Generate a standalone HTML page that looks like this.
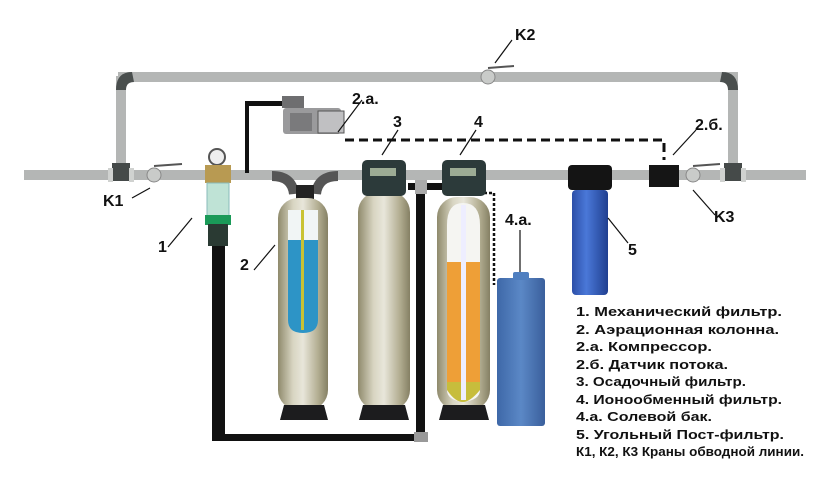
<!DOCTYPE html>
<html><head><meta charset="utf-8"><style>
html,body{margin:0;padding:0;background:#fff;}
svg{display:block}
text{font-family:"Liberation Sans","DejaVu Sans",sans-serif;font-weight:bold;fill:#111}
</style></head><body>
<svg width="830" height="483" viewBox="0 0 830 483" xmlns="http://www.w3.org/2000/svg">
<defs>
<linearGradient id="tank" x1="0" x2="1" y1="0" y2="0">
<stop offset="0" stop-color="#8f8a6c"/><stop offset="0.3" stop-color="#d8d5c2"/><stop offset="0.5" stop-color="#e8e6da"/><stop offset="0.8" stop-color="#b3ae92"/><stop offset="1" stop-color="#858064"/>
</linearGradient>
<linearGradient id="blue" x1="0" x2="1"><stop offset="0" stop-color="#2c4fa8"/><stop offset="0.4" stop-color="#4a78d8"/><stop offset="1" stop-color="#203f90"/></linearGradient>
<linearGradient id="salt" x1="0" x2="1"><stop offset="0" stop-color="#3e68a8"/><stop offset="0.5" stop-color="#5b88c6"/><stop offset="1" stop-color="#3a5f9c"/></linearGradient>
</defs>
<rect x="24" y="170" width="782" height="10" fill="#b4b6b5"/>
<rect x="118" y="72" width="620" height="10" fill="#b4b6b5"/>
<rect x="116" y="76" width="10" height="100" fill="#b4b6b5"/>
<rect x="728" y="76" width="10" height="100" fill="#b4b6b5"/>
<path d="M116 90 Q116 72 132 72 L134 82 Q126 82 126 90Z" fill="#4a4f4e"/>
<path d="M738 90 Q738 72 722 72 L720 82 Q728 82 728 90Z" fill="#4a4f4e"/>
<rect x="112" y="163" width="18" height="18" fill="#454a49"/>
<rect x="724" y="163" width="18" height="18" fill="#454a49"/>
<rect x="108" y="168" width="5" height="14" fill="#d0d2d0"/><rect x="129" y="168" width="5" height="14" fill="#d0d2d0"/>
<rect x="720" y="168" width="5" height="14" fill="#d0d2d0"/><rect x="741" y="168" width="5" height="14" fill="#d0d2d0"/>
<g fill="#c9cbc9" stroke="#888" stroke-width="1">
<circle cx="154" cy="175" r="7"/><circle cx="488" cy="77" r="7"/><circle cx="693" cy="175" r="7"/>
</g>
<path d="M154 166 L182 164 M488 68 L514 66 M693 166 L720 164" stroke="#555" stroke-width="2"/>
<rect x="212" y="245" width="13" height="195" fill="#111"/>
<rect x="212" y="434" width="212" height="7" fill="#111"/>
<rect x="416" y="188" width="9" height="250" fill="#111"/>
<rect x="414" y="432" width="14" height="10" fill="#999"/>
<rect x="245" y="103" width="4" height="70" fill="#111"/>
<rect x="245" y="101" width="40" height="5" fill="#111"/>
<rect x="408" y="183" width="40" height="7" fill="#111"/>
<rect x="415" y="180" width="12" height="14" fill="#aaa"/>
<path d="M345 140 L664 140 L664 160" stroke="#111" stroke-width="3" fill="none" stroke-dasharray="9 5"/>
<path d="M484 193 L494 193 L494 285" stroke="#111" stroke-width="2.5" fill="none" stroke-dasharray="3 2"/>
<rect x="282" y="96" width="22" height="12" fill="#6e6e70"/>
<rect x="283" y="108" width="58" height="26" rx="3" fill="#9a9a9c"/>
<rect x="318" y="111" width="26" height="22" fill="#c0c0c2" stroke="#555"/>
<rect x="290" y="113" width="22" height="18" fill="#7a7a7c"/>
<circle cx="217" cy="157" r="8" fill="#eee" stroke="#555" stroke-width="2"/>
<rect x="205" y="165" width="26" height="18" fill="#b89a52"/>
<rect x="207" y="183" width="22" height="34" fill="#bfe3d6" stroke="#8bb" />
<rect x="205" y="215" width="26" height="10" fill="#1a9a58"/>
<rect x="208" y="224" width="20" height="22" fill="#2a3a33"/>
<path d="M272 176 Q292 176 294 194" stroke="#555" stroke-width="10" fill="none"/>
<path d="M338 176 Q318 176 316 194" stroke="#555" stroke-width="10" fill="none"/>
<rect x="296" y="185" width="18" height="20" fill="#222"/>
<rect x="278" y="198" width="50" height="212" rx="20" fill="url(#tank)"/>
<rect x="358" y="192" width="52" height="218" rx="20" fill="url(#tank)"/>
<rect x="437" y="197" width="53" height="213" rx="20" fill="url(#tank)"/>
<path d="M280 420 L284 405 L324 405 L328 420Z" fill="#1c1c1e"/>
<path d="M359 420 L363 405 L405 405 L409 420Z" fill="#1c1c1e"/>
<path d="M439 420 L443 405 L485 405 L489 420Z" fill="#1c1c1e"/>
<path d="M288 228 L318 228 L318 320 Q318 333 303 333 Q288 333 288 320Z" fill="#2d94c6"/>
<path d="M288 210 L318 210 L318 240 L288 240Z" fill="#f1f5f5"/>
<rect x="301" y="210" width="3" height="120" fill="#c9c233"/>
<path d="M447 225 Q447 203 463 203 Q480 203 480 225 L480 390 Q480 400 463 402 Q447 400 447 390Z" fill="#f5f5f2"/>
<rect x="447" y="262" width="33" height="120" fill="#ee9f37"/>
<path d="M447 382 L480 382 L480 390 Q470 402 463 402 Q455 402 447 390Z" fill="#c7bd3c"/>
<rect x="461" y="205" width="5" height="195" fill="#eef"/>
<rect x="362" y="160" width="44" height="36" rx="5" fill="#2c3a3a"/>
<rect x="442" y="160" width="44" height="36" rx="5" fill="#2c3a3a"/>
<rect x="370" y="168" width="26" height="8" fill="#9cab94"/>
<rect x="450" y="168" width="26" height="8" fill="#9cab94"/>
<rect x="497" y="278" width="48" height="148" rx="3" fill="url(#salt)"/>
<rect x="513" y="272" width="16" height="8" rx="2" fill="#4f7fc0"/>
<rect x="568" y="165" width="44" height="25" rx="4" fill="#141414"/>
<rect x="572" y="190" width="36" height="105" rx="4" fill="url(#blue)"/>
<rect x="649" y="165" width="30" height="22" fill="#151515"/>
<g stroke="#111" stroke-width="1.2">
<line x1="132" y1="198" x2="150" y2="188"/>
<line x1="168" y1="247" x2="192" y2="218"/>
<line x1="254" y1="270" x2="275" y2="245"/>
<line x1="338" y1="132" x2="362" y2="100"/>
<line x1="382" y1="155" x2="398" y2="130"/>
<line x1="460" y1="155" x2="476" y2="130"/>
<line x1="520" y1="272" x2="520" y2="230"/>
<line x1="608" y1="218" x2="628" y2="243"/>
<line x1="673" y1="155" x2="696" y2="130"/>
<line x1="693" y1="190" x2="715" y2="215"/>
<line x1="495" y1="63" x2="512" y2="40"/>
</g>
<g font-size="16">
<text x="103" y="206">K1</text>
<text x="158" y="252">1</text>
<text x="240" y="270">2</text>
<text x="352" y="104">2.a.</text>
<text x="393" y="127">3</text>
<text x="474" y="127">4</text>
<text x="505" y="225">4.a.</text>
<text x="628" y="255">5</text>
<text x="695" y="130">2.б.</text>
<text x="714" y="222">K3</text>
<text x="515" y="40">K2</text>
</g>
<g font-size="12.6">
<text x="576" y="316" textLength="206" lengthAdjust="spacingAndGlyphs">1. Механический фильтр.</text>
<text x="576" y="334" textLength="203" lengthAdjust="spacingAndGlyphs">2. Аэрационная колонна.</text>
<text x="576" y="351" textLength="136" lengthAdjust="spacingAndGlyphs">2.а. Компрессор.</text>
<text x="576" y="369" textLength="152" lengthAdjust="spacingAndGlyphs">2.б. Датчик потока.</text>
<text x="576" y="386" textLength="170" lengthAdjust="spacingAndGlyphs">3. Осадочный фильтр.</text>
<text x="576" y="404" textLength="206" lengthAdjust="spacingAndGlyphs">4. Ионообменный фильтр.</text>
<text x="576" y="421" textLength="136" lengthAdjust="spacingAndGlyphs">4.а. Солевой бак.</text>
<text x="576" y="439" textLength="208" lengthAdjust="spacingAndGlyphs">5. Угольный Пост-фильтр.</text>
<text x="576" y="456" textLength="228" lengthAdjust="spacingAndGlyphs">К1, К2, К3 Краны обводной линии.</text>
</g>
</svg>
</body></html>
